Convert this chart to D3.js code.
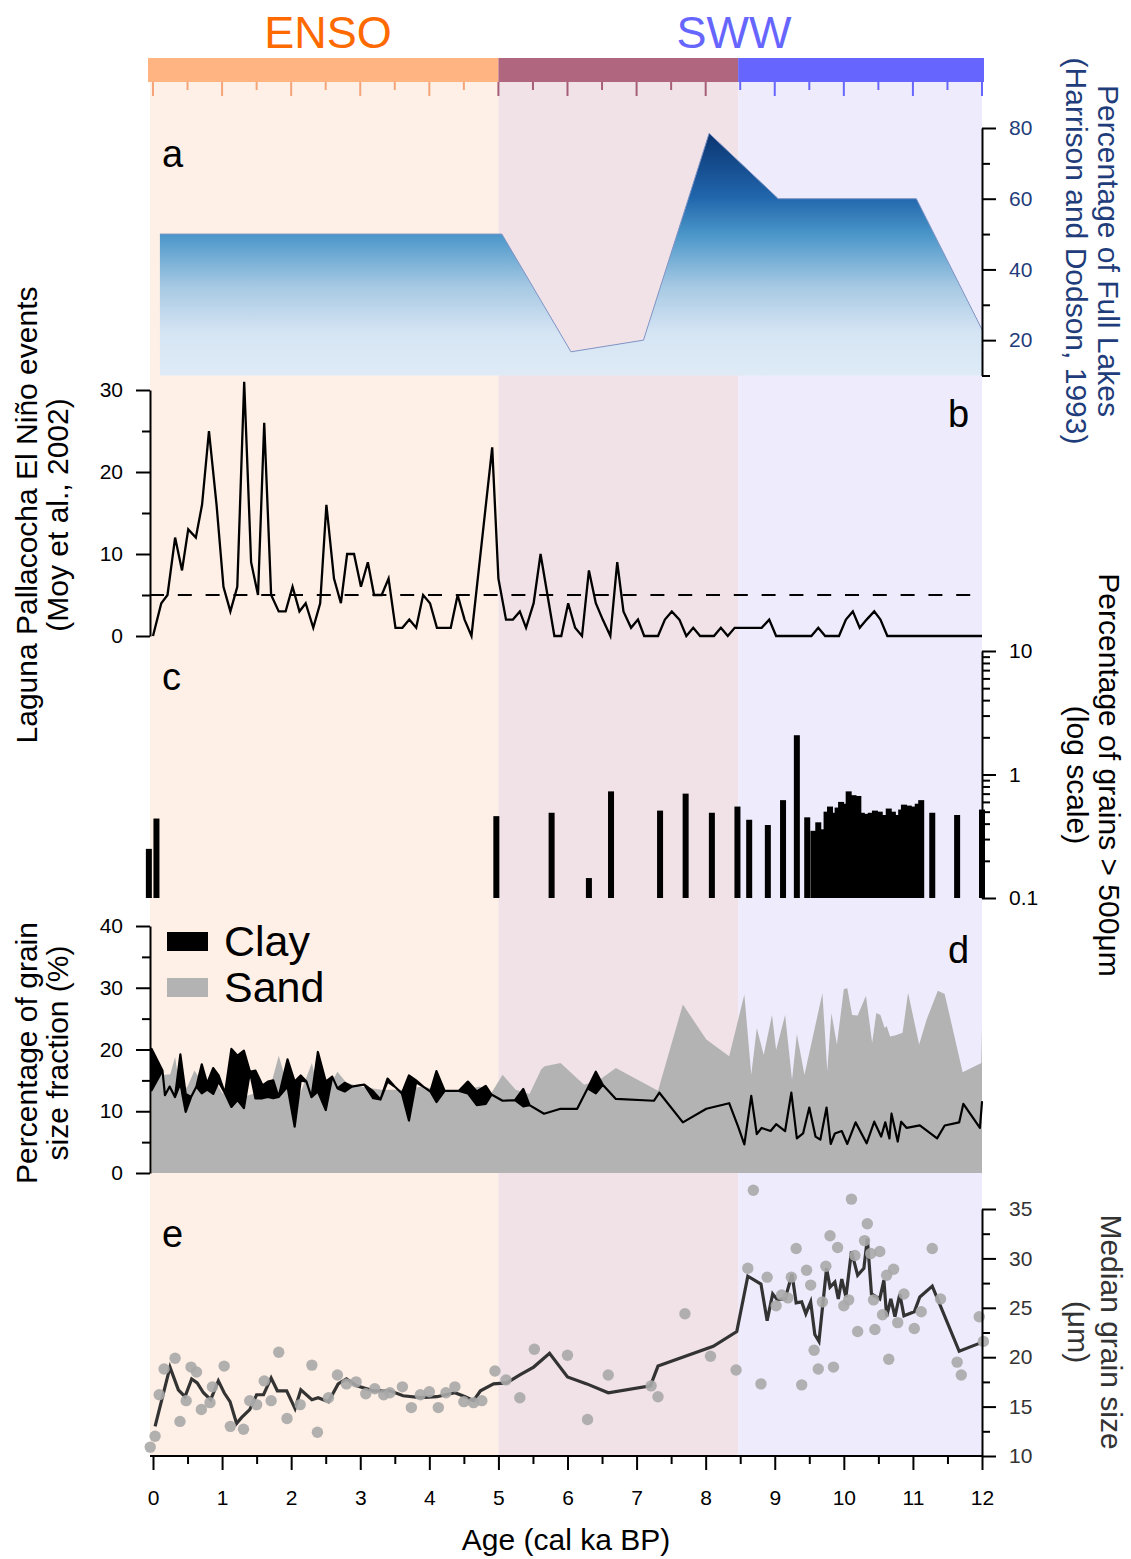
<!DOCTYPE html>
<html>
<head>
<meta charset="utf-8">
<script src="https://cdn.jsdelivr.net/npm/d3@7/dist/d3.min.js"></script>
<style>
  body { margin: 0; background: #fff; }
  svg { display: block; }
</style>
</head>
<body>
<svg id="chart" width="1131" height="1559"></svg>
<script>
// ---------------- data ----------------
// climate-driver periods (cal ka BP)
const periodStart = [0, 5, 8.47];
const periodEnd   = [5, 8.47, 12];

// (a) percentage of full lakes
const lakeAge = [0.1, 5.05, 6.05, 7.1, 8.05, 9.05, 11.05, 12];
const lakePct = [50, 50, 16.7, 20, 78.5, 60, 60, 23];

// (b) Laguna Pallacocha El Niño events per 100 yr
const ninoAge = [0,0.12,0.21,0.32,0.42,0.51,0.62,0.71,0.81,0.92,
  1.02,1.12,1.22,1.32,1.42,1.52,1.61,1.71,1.82,1.92,
  2.02,2.12,2.21,2.32,2.42,2.51,2.62,2.72,2.81,2.91,
  3.01,3.11,3.2,3.31,3.41,3.51,3.61,3.71,3.81,3.91,
  4.01,4.11,4.22,4.31,4.41,4.51,4.61,4.91,5.0,5.11,
  5.21,5.31,5.4,5.51,5.61,5.71,5.81,5.91,6.01,6.11,
  6.21,6.31,6.41,6.51,6.62,6.72,6.81,6.92,7.02,7.11,
  7.31,7.41,7.51,7.62,7.72,7.82,7.92,8.12,8.22,8.32,
  8.42,8.81,8.92,9.02,9.53,9.63,9.73,9.93,10.03,10.13,
  10.23,10.33,10.44,10.53,10.63,12];
const ninoCount = [0,4,5,12,8,13,12,16,25,16,
  6,3,6,31,9,5,26,5,3,3,
  6,3,4,1,4,16,7,4,10,10,
  6,9,5,5,7,1,1,2,1,5,
  4,1,1,1,5,2,0,23,7,2,
  2,3,1,4,10,5,0,0,4,1,
  0,8,4,2,0,9,3,1,2,0,
  0,2,3,2,0,1,0,0,1,0,
  1,1,2,0,0,1,0,0,2,3,
  1,2,3,2,0,0];
const ninoThreshold = 5;

// (c) percentage of grains > 500 µm
const coarseAge = [-0.06,0.05,4.97,5.77,6.31,6.63,7.34,7.71,8.09,8.46,
  8.63,8.9,9.12,9.32,9.47,9.56,9.63,9.69,9.75,9.8,
  9.85,9.91,9.96,10.01,10.07,10.14,10.21,10.26,10.31,10.39,
  10.45,10.52,10.58,10.65,10.71,10.78,10.83,10.87,10.94,11.01,
  11.07,11.12,11.28,11.64,12.0];
const coarsePct = [0.25,0.44,0.46,0.49,0.145,0.73,0.51,0.70,0.49,0.55,
  0.43,0.39,0.62,2.08,0.45,0.35,0.41,0.36,0.50,0.55,
  0.49,0.54,0.60,0.58,0.73,0.68,0.67,0.49,0.48,0.49,
  0.51,0.50,0.47,0.53,0.50,0.47,0.52,0.57,0.56,0.55,
  0.58,0.62,0.49,0.47,0.52];

// (d) sand fraction (%)
const sandAge = [-0.02,0.06,0.25,0.32,0.4,0.5,0.6,0.75,0.9,1.0,
  1.2,1.5,1.7,1.82,1.95,2.1,2.3,2.4,2.55,2.67,
  2.8,3.0,3.3,3.6,3.9,4.2,4.5,4.73,4.9,5.06,
  5.25,5.45,5.62,5.67,5.9,6.24,6.45,6.7,7.31,7.67,
  8.01,8.34,8.56,8.66,8.74,8.84,8.96,9.02,9.15,9.25,
  9.32,9.43,9.69,9.76,9.82,9.9,10.0,10.05,10.12,10.2,
  10.32,10.41,10.47,10.53,10.59,10.62,10.67,10.75,10.85,10.93,
  11.09,11.2,11.36,11.46,11.72,11.99,12.0];
const sandPct = [13.5,15.8,16.0,18.8,13.0,14.0,16.6,14.0,15.0,13.0,
  12.0,13.0,14.0,19.0,14.0,12.0,17.8,13.0,14.0,16.4,
  14.6,14.0,13.5,13.5,14.0,13.3,13.5,14.0,13.0,15.9,
  13.5,12.8,16.8,17.3,17.8,14.3,15.0,17.0,13.3,27.3,
  21.6,18.9,28.9,15.9,23.5,19.1,25.6,19.9,25.6,15.1,
  22.5,15.9,29.1,16.5,25.9,20.8,29.8,29.9,25.6,25.5,
  28.7,21.1,25.9,25.6,23.5,23.8,22.1,22.3,22.7,29.2,
  20.8,24.9,29.5,29.0,16.3,17.8,23.5];

// (d) clay fraction (%): upper and lower estimate
const clayAge = [-0.02,0.137,0.173,0.241,0.318,0.396,0.473,0.551,0.629,0.706,
  0.784,0.872,0.95,1.042,1.135,1.223,1.316,1.404,1.482,1.585,
  1.663,1.74,1.818,1.947,2.051,2.138,2.221,2.294,2.387,2.501,
  2.594,2.671,2.775,2.878,2.982,3.059,3.188,3.292,3.395,3.498,
  3.602,3.705,3.808,3.912,4.015,4.103,4.222,4.429,4.558,4.687,
  4.816,4.9,5.06,5.24,5.36,5.45,5.66,5.9,6.14,6.29,
  6.41,6.51,6.7,7.25,7.33,7.67,8.01,8.34,8.47,8.56,
  8.66,8.74,8.81,8.94,9.02,9.15,9.24,9.32,9.41,9.5,
  9.59,9.66,9.75,9.81,9.87,9.97,10.05,10.17,10.33,10.44,
  10.54,10.6,10.66,10.69,10.78,10.83,10.91,11.1,11.35,11.46,
  11.67,11.73,11.97,12.0];
const clayUpper = [20.1,16.6,12.6,14,12.3,19.2,12.8,12.3,14,17.6,
  14.5,17,15.8,12.9,20.1,19,19.8,16.4,16.6,14.2,
  14.8,15,12.3,18.4,14.8,15.8,14.8,12.3,19.6,14.8,
  15.6,13.7,14.6,14,14.2,14.3,13.2,11.9,15.3,14,
  12.9,15.8,15,14,13.2,16.5,13.3,13.3,14.8,13.2,
  14.1,12.7,11.7,11.8,13.6,11.0,9.6,10.4,10.4,13.7,
  16.4,14.3,12.0,11.7,13.0,8.2,10.4,11.3,7.5,4.65,
  12.5,6.3,7.3,6.8,7.9,6.8,13.0,5.6,6.4,10.6,
  5.9,5.4,10.6,4.7,6.4,6.8,4.7,8.2,4.8,8.3,
  5.9,8.2,5.6,9.6,5.1,8.3,7.3,7.7,5.6,7.7,
  8.2,11.2,7.3,11.5];
const clayLower = [13.4,16.6,12.6,14,12.3,14.5,9.9,12.3,14,12.9,
  13.5,12.8,14.8,12.9,10.7,11.8,10.5,16.4,12.1,12.1,
  12.3,12.1,12.3,14,7.5,15,14.8,12.3,13.2,10.2,
  15.6,13.7,13.2,14,14.2,14.3,12.1,11.9,14.8,14,
  12.9,8.5,14.7,14,13.2,11.5,13.3,13.3,12.9,11,
  11.2,12.7,11.7,11.8,10.8,11.0,9.6,10.4,10.4,13.7,
  12.9,14.3,12.0,11.7,13.0,8.2,10.4,11.3,7.5,4.65,
  12.5,6.3,7.3,6.8,7.9,6.8,13.0,5.6,6.4,10.6,
  5.9,5.4,10.6,4.7,6.4,6.8,4.7,8.2,4.8,8.3,
  5.9,8.2,5.6,9.6,5.1,8.3,7.3,7.7,5.6,7.7,
  8.2,11.2,7.3,11.5];

// (e) median grain size (µm): running mean and individual samples
const medianAge = [0.03,0.246,0.367,0.463,0.56,0.64,0.73,0.835,0.946,1.03,
  1.115,1.21,1.284,1.40,1.50,1.60,1.71,1.80,1.935,2.056,
  2.14,2.30,2.39,2.54,2.68,2.80,2.95,3.19,3.43,3.62,
  3.87,4.11,4.37,4.52,4.64,4.74,4.93,5.12,5.31,5.51,
  5.74,6.0,6.28,6.59,7.2,7.31,8.11,8.45,8.61,8.8,
  8.89,8.97,9.04,9.15,9.25,9.31,9.39,9.45,9.52,9.58,
  9.64,9.75,9.8,9.87,9.92,9.97,10.03,10.11,10.2,10.29,
  10.34,10.4,10.52,10.58,10.62,10.68,10.74,10.81,10.87,11.02,
  11.1,11.28,11.67,11.96];
const medianSmooth = [13.0,19.0,16.7,16.0,17.8,17.4,16.4,15.7,17.6,16.4,
  15.5,13.3,13.9,14.7,16.2,16.2,17.9,16.6,16.6,14.8,
  16.7,15.7,15.9,15.5,17.3,17.8,17.1,16.6,16.6,16.1,
  15.9,16.0,16.4,16.0,15.6,16.6,17.3,17.4,18.2,19.0,
  20.4,18.0,17.3,16.4,17.1,19.1,21.1,22.6,28.2,27.4,
  23.7,26.4,25.8,25.9,28.4,25.5,25.6,24.4,25.6,22.3,
  21.6,29.0,27.1,27.6,25.9,27.9,26.1,30.7,28.3,29.0,
  32.0,26.4,25.9,27.8,24.1,25.9,24.1,26.4,24.2,24.6,
  26.1,27.2,20.6,21.4];
const grainAge = [-0.04,0.03,0.09,0.16,0.32,0.39,0.48,0.55,0.63,0.7,
  0.825,0.86,1.03,1.12,1.31,1.40,1.5,1.61,1.71,1.82,
  1.94,2.13,2.30,2.38,2.54,2.67,2.80,2.94,3.08,3.21,
  3.34,3.43,3.61,3.74,3.87,4.0,4.13,4.24,4.37,4.50,
  4.64,4.76,4.95,5.11,5.31,5.52,6.0,6.29,6.59,7.21,
  7.31,7.70,8.07,8.44,8.61,8.69,8.8,8.89,9.02,9.1,
  9.19,9.24,9.31,9.39,9.46,9.52,9.57,9.63,9.69,9.74,
  9.8,9.85,9.91,10.0,10.07,10.11,10.16,10.2,10.3,10.34,
  10.39,10.43,10.45,10.52,10.56,10.62,10.65,10.72,10.78,10.87,
  11.02,11.12,11.28,11.4,11.64,11.7,11.96,12.02];
const grainMedian = [10.9,12.0,16.2,18.8,19.9,13.5,15.6,19.0,18.5,14.7,
  15.4,17.0,19.1,13.0,12.7,15.6,15.2,17.6,15.6,20.5,
  13.8,15.2,19.2,12.4,15.9,18.2,17.3,17.5,16.3,16.8,
  16.2,16.4,17.0,14.9,16.2,16.5,14.9,16.4,17.0,15.5,
  15.4,15.6,18.6,17.7,15.9,20.8,20.2,13.7,18.2,17.1,
  16.0,24.4,20.1,18.7,29.0,36.9,17.3,28.1,25.2,26.3,
  26.0,28.1,31.0,17.2,28.8,27.3,20.7,18.8,25.6,29.2,
  32.3,19.0,31.1,25.2,25.8,36.0,30.3,22.6,31.8,33.5,
  30.5,25.8,22.8,30.7,24.3,28.3,19.8,28.9,23.5,26.4,
  22.9,24.6,31.0,25.9,19.5,18.2,24.1,21.6];

const xTicks = d3.range(0, 13);

// ---------------- styling ----------------
const FONT = '"Liberation Sans", Arial, Helvetica, sans-serif';
const periodBg   = ["#FEF0E6", "#F1E2E8", "#EEECFC"];
const periodBar  = ["#FFB482", "#B0667E", "#6666FF"];
const periodTick = ["#F4A478", "#A65E78", "#6666FF"];
const NAVY = "#1F3D7A";
const TITLE_SIZE = 30;

const svg = d3.select("#chart");
const LEFT = 150, RIGHT = 982;
const x = d3.scaleLinear().domain([0, 12]).range([153, 982]);

const yA = d3.scaleLinear().domain([10, 80]).range([375.5, 128]);
const yB = d3.scaleLinear().domain([0, 30]).range([636, 390]);
const yC = d3.scaleLog().domain([0.1, 10]).range([898, 651]);
const yD = d3.scaleLinear().domain([0, 40]).range([1173, 926]);
const yE = d3.scaleLinear().domain([10, 35]).range([1456, 1209]);

const periodOf = t => (t < periodStart[1] ? 0 : t < periodStart[2] ? 1 : 2);

// ---- period shading behind all panels ----
periodStart.forEach((s, i) => {
  const x0 = i === 0 ? LEFT : x(s);
  const x1 = i === periodStart.length - 1 ? RIGHT : x(periodEnd[i]);
  svg.append("rect").attr("x", x0).attr("y", 82)
    .attr("width", x1 - x0).attr("height", 1456 - 82).attr("fill", periodBg[i]);
});

// ---- period bar with its tick scale ----
periodStart.forEach((s, i) => {
  const x0 = i === 0 ? 148 : x(s);
  const x1 = i === periodStart.length - 1 ? 984 : x(periodEnd[i]);
  svg.append("rect").attr("x", x0).attr("y", 58)
    .attr("width", x1 - x0).attr("height", 24).attr("fill", periodBar[i]);
});
d3.range(0, 12.001, 0.5).forEach(t => {
  const major = Math.abs(t - Math.round(t)) < 1e-6;
  svg.append("line")
    .attr("x1", x(t)).attr("x2", x(t))
    .attr("y1", 82).attr("y2", 82 + (major ? 14 : 8))
    .attr("stroke", periodTick[periodOf(t)]).attr("stroke-width", 2);
});
svg.append("text").attr("x", 328).attr("y", 48).attr("text-anchor", "middle")
  .attr("font-family", FONT).attr("font-size", 45).attr("fill", "#FF6A00").text("ENSO");
svg.append("text").attr("x", 734).attr("y", 48).attr("text-anchor", "middle")
  .attr("font-family", FONT).attr("font-size", 45).attr("fill", "#6666FF").text("SWW");

// ---- helpers ----
function yAxis(scale, side, xPos, major, minor, fmt, color) {
  const mk = side === "right" ? d3.axisRight : d3.axisLeft;
  const gMinor = svg.append("g").attr("transform", `translate(${xPos},0)`)
    .call(mk(scale).tickValues(minor).tickSize(8).tickFormat(""));
  gMinor.select(".domain").remove();
  gMinor.selectAll(".tick line").attr("stroke", "#000").attr("stroke-width", 2);
  const g = svg.append("g").attr("transform", `translate(${xPos},0)`)
    .call(mk(scale).tickValues(major).tickSize(14).tickSizeOuter(0)
      .tickPadding(13).tickFormat(fmt || (d => d)));
  g.select(".domain").attr("stroke", "#000").attr("stroke-width", 2);
  g.selectAll(".tick line").attr("stroke", "#000").attr("stroke-width", 2);
  g.selectAll(".tick text").attr("fill", color || "#000")
    .attr("font-size", 21).attr("font-family", FONT);
}
function title(xBase, yc, rot, str, color) {
  svg.append("text").attr("transform", `translate(${xBase},${yc}) rotate(${rot})`)
    .attr("text-anchor", "middle").attr("font-family", FONT).attr("font-size", TITLE_SIZE)
    .attr("fill", color || "#000").text(str);
}
function letter(xp, yp, str) {
  svg.append("text").attr("x", xp).attr("y", yp).attr("font-family", FONT)
    .attr("font-size", 38).attr("fill", "#000").text(str);
}

// ---- (a) full lakes ----
const defs = svg.append("defs");
const grad = defs.append("linearGradient").attr("id", "lakeFill")
  .attr("gradientUnits", "userSpaceOnUse")
  .attr("x1", 0).attr("x2", 0).attr("y1", yA(80)).attr("y2", yA(10));
[[0, "#08306B"], [0.28, "#2166AC"], [0.43, "#4A96C9"], [0.64, "#A6C9E3"],
 [0.83, "#D6E5F4"], [1, "#DEEBF7"]]
  .forEach(([o, c]) => grad.append("stop").attr("offset", o).attr("stop-color", c));
const lakeData = d3.zip(lakeAge, lakePct);
svg.append("path").datum(lakeData)
  .attr("d", d3.area().x(d => x(d[0])).y0(yA(10)).y1(d => yA(d[1])))
  .attr("fill", "url(#lakeFill)");
svg.append("path").datum(lakeData)
  .attr("d", d3.line().x(d => x(d[0])).y(d => yA(d[1])))
  .attr("fill", "none").attr("stroke", "#7F93C4").attr("stroke-width", 1);
yAxis(yA, "right", RIGHT, [20, 40, 60, 80], [10, 30, 50, 70], null, NAVY);
title(1098, 251, 90, "Percentage of Full Lakes", NAVY);
title(1066, 251, 90, "(Harrison and Dodson, 1993)", NAVY);
letter(162, 167, "a");

// ---- (b) El Niño events ----
svg.append("line").attr("x1", LEFT).attr("x2", RIGHT)
  .attr("y1", yB(ninoThreshold)).attr("y2", yB(ninoThreshold))
  .attr("stroke", "#000").attr("stroke-width", 2).attr("stroke-dasharray", "14,13.8");
svg.append("path").datum(d3.zip(ninoAge, ninoCount))
  .attr("d", d3.line().x(d => x(d[0])).y(d => yB(d[1])))
  .attr("fill", "none").attr("stroke", "#000").attr("stroke-width", 2.3);
yAxis(yB, "left", LEFT, [0, 10, 20, 30], [5, 15, 25]);
title(37, 515, -90, "Laguna Pallacocha El Niño events");
title(68, 515, -90, "(Moy et al., 2002)");
letter(948, 427, "b");

// ---- (c) coarse grains ----
svg.selectAll("rect.coarse").data(d3.zip(coarseAge, coarsePct)).join("rect")
  .attr("class", "coarse")
  .attr("x", d => x(d[0]) - 3).attr("width", 6)
  .attr("y", d => yC(d[1])).attr("height", d => yC(0.1) - yC(d[1]))
  .attr("fill", "#000");
yAxis(yC, "right", RIGHT, [0.1, 1, 10],
  [0.2,0.3,0.4,0.5,0.6,0.7,0.8,0.9,2,3,4,5,6,7,8,9], d => d);
title(1099, 775, 90, "Percentage of grains > 500μm");
title(1067, 775, 90, "(log scale)");
letter(162, 690, "c");

// ---- (d) grain size fractions ----
svg.append("path").datum(d3.zip(sandAge, sandPct))
  .attr("d", d3.area().x(d => x(d[0])).y0(yD(0)).y1(d => yD(d[1])))
  .attr("fill", "#B3B3B3");
svg.append("path").datum(d3.zip(clayAge, clayUpper, clayLower))
  .attr("d", d3.area().x(d => x(d[0])).y0(d => yD(d[2])).y1(d => yD(d[1])))
  .attr("fill", "#000").attr("stroke", "#000").attr("stroke-width", 2.2)
  .attr("stroke-linejoin", "round");
yAxis(yD, "left", LEFT, [0, 10, 20, 30, 40], [5, 15, 25, 35]);
title(37, 1053, -90, "Percentage of grain");
title(68, 1053, -90, "size fraction (%)");
letter(948, 963, "d");
svg.append("rect").attr("x", 167).attr("y", 932).attr("width", 41).attr("height", 19).attr("fill", "#000");
svg.append("rect").attr("x", 167).attr("y", 978).attr("width", 41).attr("height", 19).attr("fill", "#B3B3B3");
svg.append("text").attr("x", 224).attr("y", 956).attr("font-family", FONT)
  .attr("font-size", 43).text("Clay");
svg.append("text").attr("x", 224).attr("y", 1002).attr("font-family", FONT)
  .attr("font-size", 43).text("Sand");

// ---- (e) median grain size ----
svg.append("path").datum(d3.zip(medianAge, medianSmooth))
  .attr("d", d3.line().x(d => x(d[0])).y(d => yE(d[1])))
  .attr("fill", "none").attr("stroke", "#333").attr("stroke-width", 3.2);
svg.selectAll("circle.grain").data(d3.zip(grainAge, grainMedian)).join("circle")
  .attr("class", "grain")
  .attr("cx", d => x(d[0])).attr("cy", d => yE(d[1])).attr("r", 5.7)
  .attr("fill", "#A9A9A9").attr("fill-opacity", 0.9);
yAxis(yE, "right", RIGHT, [10, 15, 20, 25, 30, 35],
  [12.5, 17.5, 22.5, 27.5, 32.5], null, "#333");
title(1101, 1332, 90, "Median grain size", "#333");
title(1068, 1332, 90, "(μm)", "#333");
letter(162, 1247, "e");

// ---- shared age axis ----
const gxMinor = svg.append("g").attr("transform", "translate(0,1456)")
  .call(d3.axisBottom(x).tickValues(d3.range(0.5, 12, 1)).tickSize(8).tickFormat(""));
gxMinor.select(".domain").remove();
gxMinor.selectAll(".tick line").attr("stroke", "#000").attr("stroke-width", 2);
const gx = svg.append("g").attr("transform", "translate(0,1456)")
  .call(d3.axisBottom(x).tickValues(xTicks).tickSize(14).tickSizeOuter(0).tickPadding(20));
gx.select(".domain").remove();
gx.selectAll(".tick line").attr("stroke", "#000").attr("stroke-width", 2);
gx.selectAll(".tick text").attr("font-size", 21).attr("font-family", FONT).attr("fill", "#000");
svg.append("line").attr("x1", LEFT).attr("x2", RIGHT + 1).attr("y1", 1456).attr("y2", 1456)
  .attr("stroke", "#000").attr("stroke-width", 2);
svg.append("text").attr("x", 566).attr("y", 1550).attr("text-anchor", "middle")
  .attr("font-family", FONT).attr("font-size", 30).text("Age (cal ka BP)");
</script>
</body>
</html>
